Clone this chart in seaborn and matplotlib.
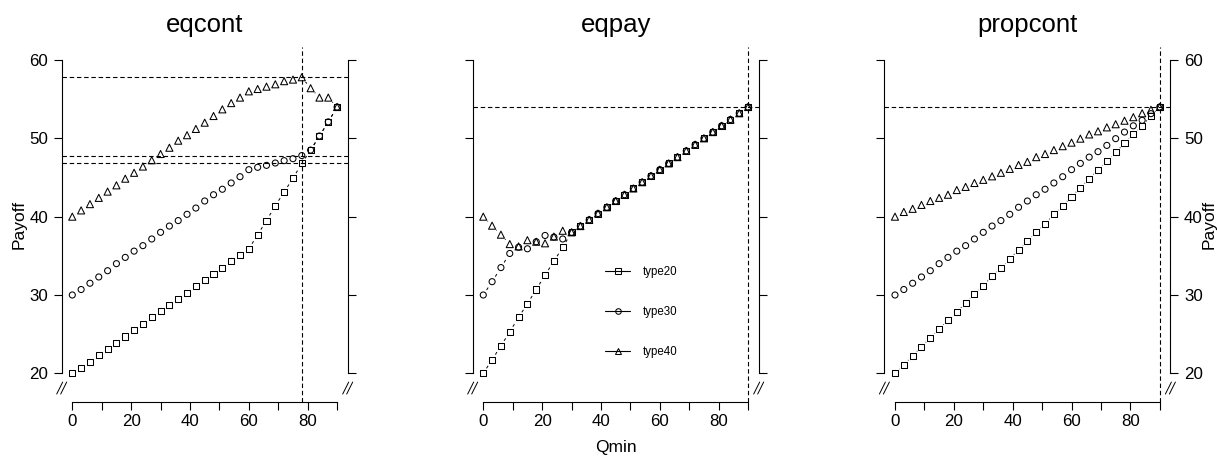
import numpy as np
import matplotlib
matplotlib.use("Agg")
import matplotlib.pyplot as plt
from matplotlib.lines import Line2D
import seaborn as sns

# valores
qmin = [0, 3, 6, 9, 12, 15, 18, 21, 24, 27, 30, 33, 36, 39, 42, 45,
        48, 51, 54, 57, 60, 63, 66, 69, 72, 75, 78, 81, 84, 87, 90]

eqcont_type20 = [20.0, 20.7, 21.5, 22.3, 23.1, 23.9, 24.7, 25.5, 26.3, 27.15, 28.0,
                 28.7, 29.5, 30.3, 31.1, 31.9, 32.7, 33.5, 34.3, 35.1, 35.9,
                 37.7, 39.5, 41.4, 43.15, 44.9, 46.8, 48.5, 50.3, 52.1, 54.0]
eqcont_type30 = [30.0, 30.7, 31.5, 32.3, 33.1, 34.0, 34.8, 35.6, 36.3, 37.15, 38.0,
                 38.8, 39.5, 40.3, 41.1, 42.0, 42.8, 43.5, 44.3, 45.1, 46.0,
                 46.3, 46.55, 46.85, 47.15, 47.4, 47.8, 48.5, 50.3, 52.1, 54.0]
eqcont_type40 = [40.0, 40.8, 41.6, 42.4, 43.2, 44.0, 44.85, 45.6, 46.4, 47.2, 48.0,
                 48.8, 49.7, 50.4, 51.2, 52.0, 52.85, 53.7, 54.5, 55.2, 56.0,
                 56.3, 56.6, 56.9, 57.3, 57.5, 57.8, 56.4, 55.2, 55.2, 54.0]

eqpay_type20 = [20.0, 21.75, 23.5, 25.3, 27.15, 28.9, 30.7, 32.55, 34.3, 36.1, 38.0,
                38.8, 39.6, 40.4, 41.2, 42.0, 42.8, 43.6, 44.4, 45.2, 46.0,
                46.8, 47.6, 48.4, 49.2, 50.0, 50.8, 51.6, 52.4, 53.2, 54.0]
eqpay_type30 = [30.0, 31.7, 33.5, 35.3, 36.1, 35.9, 36.8, 37.6, 37.4, 37.15, 38.0,
                38.8, 39.6, 40.4, 41.2, 42.0, 42.8, 43.6, 44.4, 45.2, 46.0,
                46.8, 47.6, 48.4, 49.2, 50.0, 50.8, 51.6, 52.4, 53.2, 54.0]
eqpay_type40 = [40.0, 38.85, 37.7, 36.5, 36.2, 37.0, 36.8, 36.6, 37.45, 38.2, 38.0,
                38.8, 39.6, 40.4, 41.2, 42.0, 42.8, 43.6, 44.4, 45.2, 46.0,
                46.8, 47.6, 48.4, 49.2, 50.0, 50.8, 51.6, 52.4, 53.2, 54.0]

propcont_type20 = [20.0, 21.1, 22.25, 23.4, 24.55, 25.65, 26.8, 27.8, 29.0, 30.1, 31.2,
                   32.4, 33.5, 34.6, 35.8, 36.9, 38.0, 39.1, 40.3, 41.4, 42.55,
                   43.7, 44.85, 46.0, 47.1, 48.2, 49.4, 50.5, 51.6, 52.85, 54.0]
propcont_type30 = [30.0, 30.7, 31.5, 32.3, 33.1, 34.0, 34.8, 35.6, 36.3, 37.15, 38.0,
                   38.8, 39.5, 40.3, 41.2, 42.0, 42.8, 43.5, 44.3, 45.1, 46.0,
                   46.8, 47.6, 48.3, 49.1, 49.96, 50.8, 51.6, 52.3, 53.15, 54.0]
propcont_type40 = [40.0, 40.6, 41.0, 41.5, 42.0, 42.4, 42.8, 43.4, 43.8, 44.3, 44.7,
                   45.15, 45.6, 46.1, 46.6, 47.0, 47.6, 48.0, 48.5, 49.0, 49.45,
                   49.96, 50.5, 50.9, 51.4, 51.8, 52.25, 52.7, 53.2, 53.65, 54.0]

titles = ["eqcont", "eqpay", "propcont"]
hlines = [[57.8, 47.8, 46.8], [54.0], [54.0]]
vlines = [78, 90, 90]
type_names = ["type20", "type30", "type40"]
yticks = [20, 30, 40, 50, 60]
xticks = [0, 10, 20, 30, 40, 50, 60, 70, 80, 90]
xticklabels = ["0", "", "20", "", "40", "", "60", "", "80", ""]

series = [
    [eqcont_type20, eqcont_type30, eqcont_type40],
    [eqpay_type20, eqpay_type30, eqpay_type40],
    [propcont_type20, propcont_type30, propcont_type40],
]
markers = ["s", "o", "^"]
msizes = [19, 19, 26]

sns.set_style("ticks")
plt.rcParams['font.family'] = ['Liberation Sans', 'DejaVu Sans']
plt.rcParams['axes.edgecolor'] = 'black'
plt.rcParams['xtick.color'] = 'black'
plt.rcParams['ytick.color'] = 'black'
plt.rcParams['text.color'] = 'black'
plt.rcParams['axes.labelcolor'] = 'black'


def gap_lines(ax, x, y, gap=6.0):
    # lineas tipo "b" de R: segmentos con hueco alrededor de cada punto
    pts = ax.transData.transform(np.column_stack([x, y]))
    inv = ax.transData.inverted()
    for p0, p1 in zip(pts[:-1], pts[1:]):
        d = np.hypot(*(p1 - p0))
        if d <= 2 * gap:
            continue
        u = (p1 - p0) / d
        seg = inv.transform(np.array([p0 + u * gap, p1 - u * gap]))
        ax.plot(seg[:, 0], seg[:, 1], ls=(0, (3, 3)), lw=0.7, color='black', zorder=2)


def break_marks(ax, xc, yc=18.12):
    c = ax.transData.transform((xc, yc))
    inv = ax.transData.inverted()
    for off in (-2.0, 2.0):
        seg = inv.transform(np.array([[c[0] + off - 3, c[1] - 6], [c[0] + off + 3, c[1] + 6]]))
        ax.plot(seg[:, 0], seg[:, 1], color='black', lw=0.7, clip_on=False)


fig = plt.figure(figsize=(12.17, 4.59), dpi=100)
lefts = [0.0507, 0.3884, 0.7267]
axes = [fig.add_axes([l, 0.1242, 0.2350, 0.7734]) for l in lefts]

for i, ax in enumerate(axes):
    for vals, mk, sz in zip(series[i], markers, msizes):
        sns.scatterplot(x=qmin, y=vals, marker=mk, s=sz, facecolor='none',
                        edgecolor='black', linewidth=0.75, ax=ax, zorder=3)
    ax.set_xlim(-3.6, 93.6)
    ax.set_ylim(16.34, 61.66)

    for vals in series[i]:
        gap_lines(ax, qmin, vals)

    for h in hlines[i]:
        ax.axhline(h, ls=(0, (4, 2.5)), lw=0.8, color='black', zorder=1)
    ax.axvline(vlines[i], ls=(0, (4, 2.5)), lw=0.8, color='black', zorder=1)

    ax.spines['top'].set_visible(False)
    ax.spines['left'].set_bounds(20, 60)
    ax.spines['right'].set_bounds(20, 60)
    ax.spines['bottom'].set_bounds(0, 90)
    for sp in ['left', 'right', 'bottom']:
        ax.spines[sp].set_linewidth(0.8)

    ax.set_yticks(yticks)
    ax.set_xticks(xticks)
    ax.set_xticklabels(xticklabels)
    ax.tick_params(axis='y', left=True, right=True, direction='out', length=5.8,
                   width=0.8, labelleft=(i == 0), labelright=(i == 2), pad=4,
                   labelsize=12.2)
    ax.tick_params(axis='x', direction='out', length=5.6, width=0.8, pad=3,
                   labelsize=12.2)

    break_marks(ax, -3.6)
    break_marks(ax, 93.6)

    ax.set_title(titles[i], fontsize=18.5, pad=10.8)

axes[0].set_ylabel("Payoff", fontsize=12.5, labelpad=2)
axes[2].yaxis.set_label_position('right')
axes[2].set_ylabel("Payoff", fontsize=12.5, labelpad=-1)
axes[1].set_xlabel("Qmin", fontsize=12.5, labelpad=8)

handles = [Line2D([], [], color='black', lw=0.8, marker=m, ms=4, mfc='none',
                  mec='black', mew=0.75) for m in markers]
axes[1].legend(handles, type_names, loc='center left', bbox_to_anchor=(0.4626, 0.2535),
               frameon=False, fontsize=8.3, handlelength=2.2, handletextpad=1.1,
               labelspacing=2.4, borderpad=0, borderaxespad=0, numpoints=1)

fig.savefig("out.png", dpi=100)
